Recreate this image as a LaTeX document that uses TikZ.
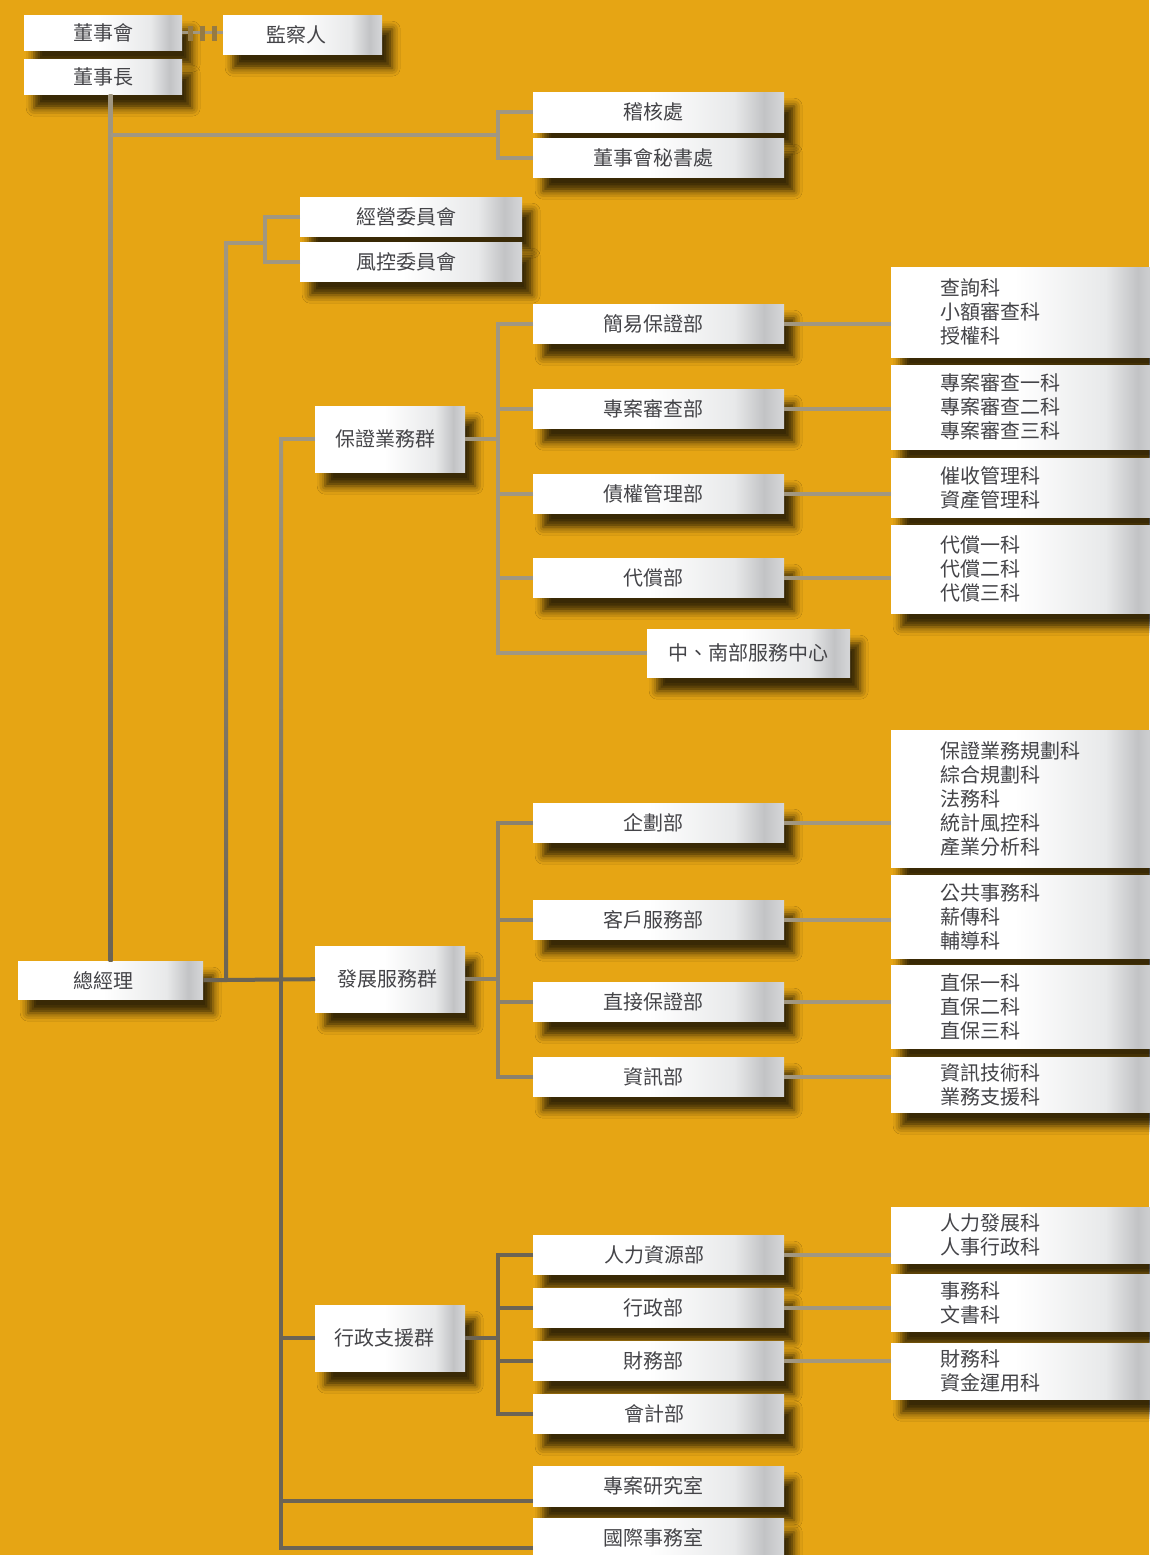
\documentclass[tikz,border=0pt]{standalone}
\usepackage{fontspec}
\newfontfamily\cjk{Noto Sans CJK TC}
\usepackage{tikz}
\usetikzlibrary{calc,shadows.blur}

\definecolor{bgorange}{RGB}{230,165,20}
\definecolor{textgray}{RGB}{68,68,72}
\definecolor{boxA}{RGB}{232,233,234}
\definecolor{boxB}{RGB}{194,195,197}
\definecolor{boxC}{RGB}{214,215,217}
\definecolor{linelight}{RGB}{161,151,129}
\definecolor{linemid}{RGB}{138,129,110}
\definecolor{linedark}{RGB}{108,100,84}
\definecolor{hatchbrown}{RGB}{150,122,66}

\pgfdeclarehorizontalshading{boxshade}{100bp}{color(0bp)=(white); color(48bp)=(white); color(65bp)=(boxA); color(71bp)=(boxB); color(75bp)=(boxC); color(100bp)=(boxC)}

\tikzset{
  tbox/.style={anchor=north west, inner sep=0pt, shade, shading=boxshade, text=textgray,
    font=\cjk\fontsize{20}{24}\selectfont, minimum width=251pt, minimum height=39pt,
    blur shadow={shadow xshift=10pt, shadow yshift=-14pt, shadow blur radius=8pt, shadow opacity=75}},
  grp/.style={tbox, minimum width=150pt, minimum height=66pt},
  sect/.style={tbox, text width=170pt, inner xsep=49pt, align=left},
  link/.style={draw=linelight, line width=4pt},
  mlink/.style={draw=linemid, line width=4pt},
  dlink/.style={draw=linedark, line width=4pt},
  hatch/.style={draw=hatchbrown, line width=5pt}
}

\begin{document}
\begin{tikzpicture}[x=1pt,y=-1pt]
\useasboundingbox (0,0) rectangle (1149,1555);
\fill[bgorange] (0,0) rectangle (1149,1555);

\node[tbox, minimum width=158pt, minimum height=35pt] (dsh) at (24,15) {董事會};
\node[tbox, minimum width=158pt, minimum height=35pt] (dsz) at (24,59) {董事長};
\node[tbox, minimum width=159pt] (jcr) at (223,15) {監察人\hspace*{12pt}};
\node[tbox, minimum height=40pt] (jh) at (533,92) {稽核處\hspace*{10pt}};
\node[tbox] (ms) at (533,138) {董事會秘書處\hspace*{10pt}};
\node[tbox, minimum width=222pt] (jy) at (300,197) {經營委員會\hspace*{10pt}};
\node[tbox, minimum width=222pt] (fk) at (300,242) {風控委員會\hspace*{10pt}};

\node[grp] (bz) at (315,406) {保證業務群\hspace*{10pt}};
\node[tbox] (jybz) at (533,304) {簡易保證部\hspace*{10pt}};
\node[tbox] (zasc) at (533,389) {專案審查部\hspace*{10pt}};
\node[tbox] (zqgl) at (533,474) {債權管理部\hspace*{10pt}};
\node[tbox] (dc) at (533,558) {代償部\hspace*{10pt}};
\node[tbox, minimum width=203pt, minimum height=48pt] (znfw) at (647,629) {中、南部服務中心};
\node[sect, minimum height=90pt] (k1) at (891,267) {查詢科\\小額審查科\\授權科};
\node[sect, minimum height=84pt] (k2) at (891,365) {專案審查一科\\專案審查二科\\專案審查三科};
\node[sect, minimum height=59pt] (k3) at (891,458) {催收管理科\\資產管理科};
\node[sect, minimum height=88pt] (k4) at (891,525) {代償一科\\代償二科\\代償三科};

\node[tbox, minimum width=185pt, minimum height=38pt] (zjl) at (18,961) {總經理\hspace*{14pt}};
\node[grp] (fz) at (315,946) {發展服務群\hspace*{6pt}};
\node[tbox] (qh) at (533,803) {企劃部\hspace*{10pt}};
\node[tbox] (kf) at (533,900) {客戶服務部\hspace*{10pt}};
\node[tbox] (zj) at (533,982) {直接保證部\hspace*{10pt}};
\node[tbox] (zx) at (533,1057) {資訊部\hspace*{10pt}};
\node[sect, minimum height=137pt] (k5) at (891,730) {保證業務規劃科\\綜合規劃科\\法務科\\統計風控科\\產業分析科};
\node[sect, minimum height=83pt] (k6) at (891,875) {公共事務科\\薪傳科\\輔導科};
\node[sect, minimum height=83pt] (k7) at (891,965) {直保一科\\直保二科\\直保三科};
\node[sect, minimum height=55pt] (k8) at (891,1057) {資訊技術科\\業務支援科};

\node[grp] (xz) at (315,1305) {行政支援群\hspace*{12pt}};
\node[tbox] (rl) at (533,1235) {人力資源部\hspace*{8pt}};
\node[tbox] (xzb) at (533,1288) {行政部\hspace*{10pt}};
\node[tbox] (cw) at (533,1341) {財務部\hspace*{10pt}};
\node[tbox] (kj) at (533,1394) {會計部\hspace*{8pt}};
\node[sect, minimum height=56pt] (k9) at (891,1207) {人力發展科\\人事行政科};
\node[sect, minimum height=57pt] (k10) at (891,1274) {事務科\\文書科};
\node[sect, minimum height=56pt] (k11) at (891,1343) {財務科\\資金運用科};
\node[tbox, minimum height=40pt] (yj) at (533,1466) {專案研究室\hspace*{10pt}};
\node[tbox, minimum height=40pt] (gj) at (533,1518) {國際事務室\hspace*{10pt}};

\coordinate (jl) at (dsh.east -| jcr.west);
\draw[link, line width=3pt] (dsh.east) -- (jl);
\foreach \p in {0.2,0.5,0.8}
  \draw[hatch] ($(dsh.east)!\p!(jl)$) ++(0,-7) -- ++(0,15);

\coordinate (v1) at (zjl.north |- dsz.south);
\shade[top color=linelight, bottom color=linedark] ([xshift=-2pt]v1) rectangle ([xshift=2pt]zjl.north);
\coordinate (tb) at (498,135);
\draw[link] (jh.west) -| (tb);
\draw[link] (ms.west) -| (tb);
\draw[link] (tb) -- (tb -| zjl.north);

\coordinate (cb) at (265,243);
\coordinate (cl) at (226,243);
\coordinate (c2) at (cl |- zjl.east);
\draw[link] (jy.west) -| (cb);
\draw[link] (fk.west) -| (cb);
\draw[link] (cb) -- (cl);
\shade[top color=linelight, bottom color=linedark] ([xshift=-2pt,yshift=2pt]cl) rectangle ([xshift=2pt]c2);
\draw[dlink] (zjl.east) -- (fz.west);

\coordinate (s1) at ([xshift=-34pt]bz.west);
\coordinate (s2) at (s1 |- fz.west);
\coordinate (g1) at ([yshift=10pt]gj.south west);
\coordinate (s3) at (s1 |- g1);
\coordinate (y1) at ([yshift=5pt]yj.south west);
\draw[link] (bz.west) -- (s1);
\shade[top color=linelight, bottom color=linedark] ([xshift=-2pt,yshift=2pt]s1) rectangle ([xshift=2pt]s2);
\fill[linedark] ([xshift=-2pt]s2) rectangle ([xshift=2pt,yshift=-2pt]s3);
\draw[dlink] (xz.west) -- (xz.west -| s1);
\draw[dlink] (y1) -- (y1 -| s1);
\draw[dlink] (g1) -- (s3);

\draw[link] (bz.east) -- ++(33,0) coordinate (b1);
\foreach \n in {jybz,zasc,zqgl,dc,znfw}
  \draw[link] (\n.west) -| (b1);
\foreach \n/\k in {jybz/k1,zasc/k2,zqgl/k3,dc/k4}
  \draw[link] (\n.east) -- (\n.east -| \k.west);

\draw[mlink] (fz.east) -- ++(33,0) coordinate (b2);
\foreach \n in {qh,kf,zj,zx}
  \draw[mlink] (\n.west) -| (b2);
\foreach \n/\k in {qh/k5,kf/k6,zj/k7,zx/k8}
  \draw[link] (\n.east) -- (\n.east -| \k.west);

\draw[dlink] (xz.east) -- ++(33,0) coordinate (b3);
\foreach \n in {rl,xzb,cw,kj}
  \draw[dlink] (\n.west) -| (b3);
\foreach \n/\k in {rl/k9,xzb/k10,cw/k11}
  \draw[link] (\n.east) -- (\n.east -| \k.west);
\end{tikzpicture}
\end{document}
